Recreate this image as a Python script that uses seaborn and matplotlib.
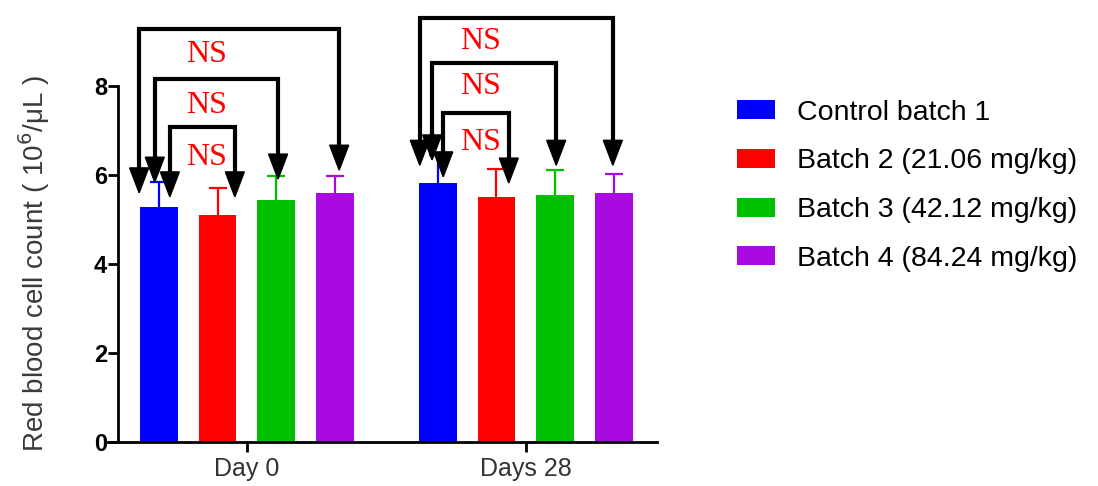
import numpy as np
import pandas as pd
import seaborn as sns
import matplotlib.pyplot as plt
from matplotlib.patches import Patch, Polygon

# ---- data ----
days     = ['Day 0', 'Days 28']
batches  = ['Control batch 1', 'Batch 2 (21.06 mg/kg)',
            'Batch 3 (42.12 mg/kg)', 'Batch 4 (84.24 mg/kg)']
mean_d0  = [5.28, 5.10, 5.44, 5.60]
mean_d28 = [5.82, 5.51, 5.55, 5.60]
sd_d0    = [0.56, 0.61, 0.54, 0.38]
sd_d28   = [0.63, 0.62, 0.56, 0.42]

# significance brackets: control vs batch 2, 3, 4 (all NS)
sig_label   = ['NS', 'NS', 'NS']
top_d0      = [7.08, 8.16, 9.28]
top_d28     = [7.39, 8.52, 9.53]
tipL_d0     = [5.51, 5.84, 5.60]
tipR_d0     = [5.51, 5.91, 6.11]
tipL_d28    = [5.96, 6.34, 6.22]
tipR_d28    = [5.82, 6.22, 6.22]
ns_y_d0     = [6.40, 7.57, 8.70]
ns_y_d28    = [6.74, 7.98, 8.99]

colors = ['#0000FF', '#FF0000', '#00C000', '#A90AE1']

df = pd.DataFrame({
    'day':   np.repeat(days, len(batches)),
    'batch': batches * len(days),
    'value': mean_d0 + mean_d28,
})

plt.rcParams['font.family'] = ['Liberation Sans', 'DejaVu Sans']

fig = plt.figure(figsize=(10.98, 4.86), dpi=100)
ax = fig.add_axes([0.0984, 0.0905, 0.5, 0.7325])

sns.barplot(data=df, x='day', y='value', hue='batch', palette=colors,
            order=days, hue_order=batches, errorbar=None, width=0.844,
            gap=0.356, saturation=1, legend=False, ax=ax, linewidth=0)

# bar centres / heights from the library's containers
cx = np.zeros((len(days), len(batches)))
hy = np.zeros((len(days), len(batches)))
for h, cont in enumerate(ax.containers):
    for g, bar in enumerate(cont):
        cx[g, h] = bar.get_x() + bar.get_width() / 2
        hy[g, h] = bar.get_height()

sds = [sd_d0, sd_d28]
for g in range(len(days)):
    for h in range(len(batches)):
        eb = ax.errorbar(cx[g, h], hy[g, h], yerr=[[0], [sds[g][h]]],
                         color=colors[h], lw=1.6, capsize=6.8, capthick=1.6,
                         zorder=0.9)
        eb[1][0].set_visible(False)   # only the upper cap

# brackets with arrow heads
offL = [[0.04, -0.014, -0.07], [0.02, -0.02, -0.064]]
offR = [[0.062, 0.006, 0.014], [0.044, 0.003, -0.005]]
tops = [top_d0, top_d28]
tipsL = [tipL_d0, tipL_d28]
tipsR = [tipR_d0, tipR_d28]
ns_y = [ns_y_d0, ns_y_d28]
ns_x = [-0.145, 0.836]
ah, aw = 0.56, 0.034


def arrow_head(x, tip):
    ax.add_patch(Polygon([(x - aw, tip + ah), (x + aw, tip + ah), (x, tip)],
                         closed=True, color='black', clip_on=False, zorder=5))


for g in range(len(days)):
    for k in range(3):
        xl = cx[g, 0] + offL[g][k]
        xr = cx[g, k + 1] + offR[g][k]
        yl = tipsL[g][k]
        yr = tipsR[g][k]
        t = tops[g][k]
        ax.plot([xl, xl, xr, xr], [yl + ah - 0.02, t, t, yr + ah - 0.02],
                color='black', lw=3, solid_joinstyle='miter',
                solid_capstyle='butt', clip_on=False, zorder=4)
        arrow_head(xl, yl)
        arrow_head(xr, yr)
        ax.text(ns_x[g], ns_y[g][k], sig_label[k], color='#FF0000',
                fontsize=23, family='Liberation Serif', ha='center',
                va='center', zorder=6)

ax.set_ylim(0, 8)
ax.set_xlim(-0.498, 1.470)
ax.set_yticks([0, 2, 4, 6, 8])
ax.spines['left'].set_position(('data', -0.462))
ax.spines['top'].set_visible(False)
ax.spines['right'].set_visible(False)
for s in ['left', 'bottom']:
    ax.spines[s].set_linewidth(2)
ax.tick_params(axis='y', length=7, width=2, pad=1, labelsize=17)
ax.tick_params(axis='x', length=7, width=2, pad=4, labelsize=18,
               labelcolor='#333333')
for lab in ax.get_yticklabels():
    lab.set_fontweight('bold')

ax.set_xlabel('')
ax.set_ylabel(r'Red blood cell count ( 10$^{6}$/μL )', fontsize=20,
              color='#3a3a3a', labelpad=30)

handles = [Patch(facecolor=c, edgecolor='none') for c in colors]
fig.legend(handles, batches, loc='upper left', bbox_to_anchor=(0.671, 0.795),
           frameon=False, fontsize=20.5, handlelength=1.33, handleheight=0.65,
           handletextpad=0.8, labelspacing=0.8, borderpad=0,
           borderaxespad=0)

fig.savefig('out.png', dpi=100)
